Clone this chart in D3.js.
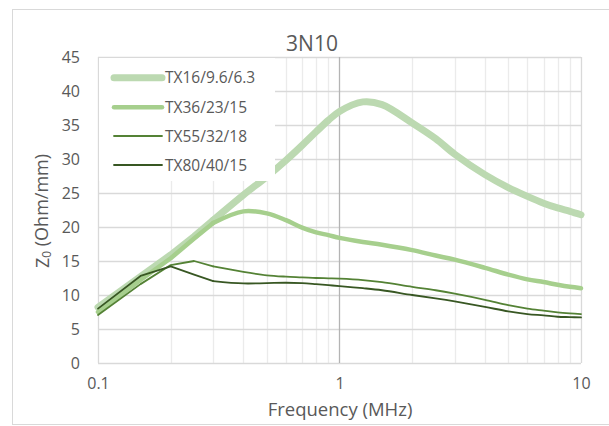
<!DOCTYPE html>
<html>
<head>
<meta charset="utf-8">
<script src="https://cdn.jsdelivr.net/npm/d3@7"></script>
<style>
  html, body { margin: 0; padding: 0; background: #fff; }
  svg { display: block; }
  text { font-family: "Open Sans", "DejaVu Sans", sans-serif; fill: #595959; }
</style>
</head>
<body>
<svg id="chart" width="609" height="426"></svg>
<script>
// Characteristic impedance vs frequency for 3N10 toroids
const title = "3N10";
const freqs = [0.1, 0.15, 0.2, 0.25, 0.3, 0.4, 0.5, 0.6, 0.7, 0.8, 0.9, 1, 1.25, 1.5, 2, 2.5, 3, 4, 5, 6, 7, 8, 9, 10];
const seriesNames = ["TX16/9.6/6.3", "TX36/23/15", "TX55/32/18", "TX80/40/15"];
const tx16 = [8.2, 12.7, 15.9, 18.6, 21.0, 24.7, 27.4, 29.8, 32.0, 34.0, 35.7, 37.0, 38.4, 38.0, 35.3, 33.0, 30.7, 27.7, 25.8, 24.5, 23.5, 22.8, 22.3, 21.8];
const tx36 = [7.5, 12.2, 15.4, 18.3, 20.6, 22.3, 22.0, 21.0, 19.9, 19.2, 18.8, 18.4, 17.8, 17.4, 16.6, 15.8, 15.2, 14.0, 13.0, 12.3, 11.9, 11.5, 11.2, 11.0];
const tx55 = [7.05, 11.6, 14.4, 15.0, 14.2, 13.4, 12.9, 12.7, 12.6, 12.5, 12.45, 12.4, 12.2, 11.9, 11.2, 10.7, 10.2, 9.3, 8.5, 8.0, 7.7, 7.45, 7.3, 7.2];
const tx80 = [8.0, 12.8, 14.2, 13.0, 12.05, 11.7, 11.75, 11.8, 11.75, 11.6, 11.45, 11.3, 11.0, 10.7, 10.0, 9.5, 9.05, 8.25, 7.6, 7.2, 7.0, 6.8, 6.75, 6.7];
const xTicks = [0.1, 1, 10];
const yTicks = [0, 5, 10, 15, 20, 25, 30, 35, 40, 45];
const xTitle = "Frequency (MHz)";

const colors = ["#bcd9b1", "#a6cf8d", "#548235", "#385723"];
const widths = [7, 4.5, 1.8, 1.8];
const values = [tx16, tx36, tx55, tx80];

const svg = d3.select("#chart");
const plot = { left: 98, right: 581, top: 57, bottom: 363 };

const x = d3.scaleLog().domain([0.1, 10]).range([plot.left, plot.right]);
const y = d3.scaleLinear().domain([0, 45]).range([plot.bottom, plot.top]);

// chart border
svg.append("rect")
  .attr("x", 12.5).attr("y", 9.5).attr("width", 620).attr("height", 415)
  .attr("fill", "#fff").attr("stroke", "#d9d9d9").attr("stroke-width", 1);

// minor vertical gridlines
const minor = [];
[0.1, 1].forEach(d => { for (let k = 2; k <= 9; k++) minor.push(d * k); });
svg.append("g").selectAll("line").data(minor).join("line")
  .attr("x1", d => Math.round(x(d)) + 0.5).attr("x2", d => Math.round(x(d)) + 0.5)
  .attr("y1", plot.top).attr("y2", plot.bottom)
  .attr("stroke", "#ebebeb").attr("stroke-width", 1.3);

// horizontal gridlines
svg.append("g").selectAll("line").data(yTicks).join("line")
  .attr("x1", plot.left).attr("x2", plot.right)
  .attr("y1", d => Math.round(y(d)) + 0.5).attr("y2", d => Math.round(y(d)) + 0.5)
  .attr("stroke", "#d9d9d9").attr("stroke-width", 1.3);

// major vertical gridlines
svg.append("g").selectAll("line").data(xTicks).join("line")
  .attr("x1", d => Math.round(x(d)) + 0.5).attr("x2", d => Math.round(x(d)) + 0.5)
  .attr("y1", plot.top).attr("y2", plot.bottom)
  .attr("stroke", d => d === 1 ? "#b4b4b4" : "#d9d9d9").attr("stroke-width", 1.3);

// axis tick labels
const yAxis = d3.axisLeft(y).tickValues(yTicks).tickSize(0).tickPadding(18);
const gy = svg.append("g").attr("transform", `translate(${plot.left},0)`).call(yAxis);
gy.select(".domain").remove();
gy.selectAll("text").attr("font-size", 16).attr("fill", "#595959")
  .attr("font-family", "'Open Sans', sans-serif");

const xAxis = d3.axisBottom(x).tickValues(xTicks).tickSize(0).tickPadding(15)
  .tickFormat(d3.format("~g"));
const gx = svg.append("g").attr("transform", `translate(0,${plot.bottom})`).call(xAxis);
gx.select(".domain").remove();
gx.selectAll("text").attr("font-size", 16).attr("fill", "#595959")
  .attr("font-family", "'Open Sans', sans-serif");

// series lines: straight segments up to 0.3 MHz, smoothed above
const pts = vals => vals.map((v, i) => [freqs[i], v]);
const lineLin = d3.line().x(d => x(d[0])).y(d => y(d[1]));
const lineSmooth = d3.line().x(d => x(d[0])).y(d => y(d[1])).curve(d3.curveCatmullRom.alpha(0.5));
values.forEach((vals, s) => {
  const p = pts(vals);
  const low = p.filter(d => d[0] <= 0.3);
  const high = p.filter(d => d[0] >= 0.3);
  [lineLin(low), lineSmooth(high)].forEach(dStr => {
    svg.append("path")
      .attr("d", dStr)
      .attr("fill", "none")
      .attr("stroke", colors[s])
      .attr("stroke-width", widths[s])
      .attr("stroke-linejoin", "round")
      .attr("stroke-linecap", "round");
  });
});

// legend
const lg = svg.append("g");
lg.append("rect").attr("x", 99).attr("y", 58).attr("width", 176).attr("height", 123).attr("fill", "#fff");
const rowY = [77.7, 107.3, 136, 165];
seriesNames.forEach((name, s) => {
  lg.append("line")
    .attr("x1", 114).attr("x2", 162).attr("y1", rowY[s]).attr("y2", rowY[s])
    .attr("stroke", colors[s]).attr("stroke-width", widths[s]).attr("stroke-linecap", "round");
  lg.append("text").attr("x", 165).attr("y", rowY[s]).attr("dy", "0.36em")
    .attr("font-size", 15.5).text(name);
});

// titles
svg.append("text").attr("x", 312).attr("y", 51).attr("text-anchor", "middle")
  .attr("font-size", 21).text(title);
svg.append("text").attr("x", 340).attr("y", 416).attr("text-anchor", "middle")
  .attr("font-size", 18.5).text(xTitle);
const yt = svg.append("text").attr("transform", "translate(49,211) rotate(-90)")
  .attr("text-anchor", "middle").attr("font-size", 18);
yt.append("tspan").text("Z");
yt.append("tspan").attr("font-size", 12).attr("dy", "0.2em").text("0");
yt.append("tspan").attr("dy", "-0.2em").text(" (Ohm/mm)");
</script>
</body>
</html>
